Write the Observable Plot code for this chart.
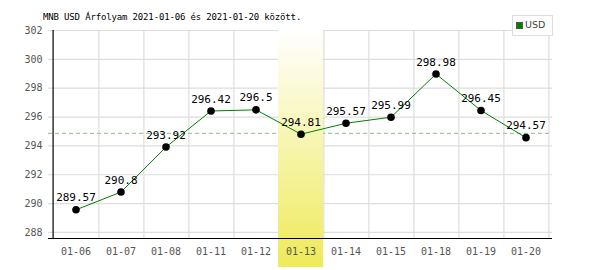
<!DOCTYPE html>
<html><head><meta charset="utf-8">
<script src="https://cdn.jsdelivr.net/npm/d3@7"></script>
<script src="https://cdn.jsdelivr.net/npm/@observablehq/plot@0.6"></script>
<style>
body{margin:0;background:#fff;}
#wrap{position:relative;width:600px;height:270px;}
#title{position:absolute;left:43px;top:12px;font:9px "DejaVu Sans Mono",monospace;color:#000;white-space:nowrap;letter-spacing:-0.15px;}
#legend{position:absolute;left:512px;top:15px;width:39px;height:19px;border:1px solid #ddd;background:#fff;font:9.5px "DejaVu Sans",sans-serif;color:#444;}
#legend span.sw{position:absolute;left:3px;top:6px;width:5px;height:5px;background:#008000;border:1px solid #555;}
#legend span.t{position:absolute;left:12px;top:3px;}
</style></head>
<body>
<div id="wrap">
<div id="chart"></div>
<div id="title">MNB USD Árfolyam 2021-01-06 és 2021-01-20 között.</div>
<div id="legend"><span class="sw"></span><span class="t">USD</span></div>
</div>
<script>
const dates = ["01-06","01-07","01-08","01-11","01-12","01-13","01-14","01-15","01-18","01-19","01-20"];
const usd = [289.57,290.8,293.92,296.42,296.5,294.81,295.57,295.99,298.98,296.45,294.57];
const valueLabels = ["289.57","290.8","293.92","296.42","296.5","294.81","295.57","295.99","298.98","296.45","294.57"];
const yTicks = [288,290,292,294,296,298,300,302];
const highlighted = ["01-13"];

const data = dates.map((d,i)=>({date:d, v:usd[i], label:valueLabels[i]}));
const avg = d3.mean(usd);
const W=600, ML=48, MR=48;
const bw = (W-ML-MR)/dates.length;
const yMin = 287.58, yMax = 302;

const chart = Plot.plot({
  width: W, height: 270,
  marginLeft: ML, marginRight: MR, marginTop: 30, marginBottom: 32,
  x: {type:"band", domain: dates, padding: 0, label: null},
  y: {domain:[yMin,yMax], label:null},
  style: {fontFamily:"DejaVu Sans Mono, monospace", fontSize:"10px", background:"transparent"},
  marks: [
    Plot.ruleY(yTicks, {stroke:"#ddd", strokeWidth:1.2, strokeOpacity:1}),
    Plot.ruleX(dates, {x: d=>d, dx: bw/2, stroke:"#ddd", strokeWidth:1.2, y1: yMin, y2: yMax}),
    Plot.ruleY([avg], {stroke:"#8b8", strokeOpacity:1, strokeDasharray:"4,3", strokeWidth:1}),
    Plot.barY(highlighted, {x: d=>d, y1: yMin, y2: yMax, fill:"url(#hl)", insetBottom:-29}),
    Plot.ruleX([dates[0]], {dx:-bw/2, y1:yMin, y2:yMax, stroke:"#000", strokeWidth:1.2}),
    Plot.ruleY([yMin], {stroke:"#000", strokeWidth:1.2}),
    Plot.axisY(yTicks, {tickSize:0, tickPadding:6, fill:"#555", fontSize:10}),
    Plot.axisX({tickSize:0, tickPadding:9, fill:"#555", fontSize:10}),
    Plot.line(data, {x:"date", y:"v", stroke:"#008000", strokeWidth:1}),
    Plot.dot(data, {x:"date", y:"v", r:3.8, fill:"#000", stroke:"none"}),
    Plot.text(data, {x:"date", y:"v", text:"label", dy:-12, fill:"#000", fontSize:11})
  ]
});
const svg = d3.select(chart);
const defs = svg.insert("defs", ":first-child");
const g = defs.append("linearGradient").attr("id","hl").attr("x1",0).attr("y1",0).attr("x2",0).attr("y2",1);
g.append("stop").attr("offset","0%").attr("stop-color","#ffffff");
g.append("stop").attr("offset","100%").attr("stop-color","#eeea58");
document.getElementById("chart").appendChild(chart);
</script>
</body></html>
